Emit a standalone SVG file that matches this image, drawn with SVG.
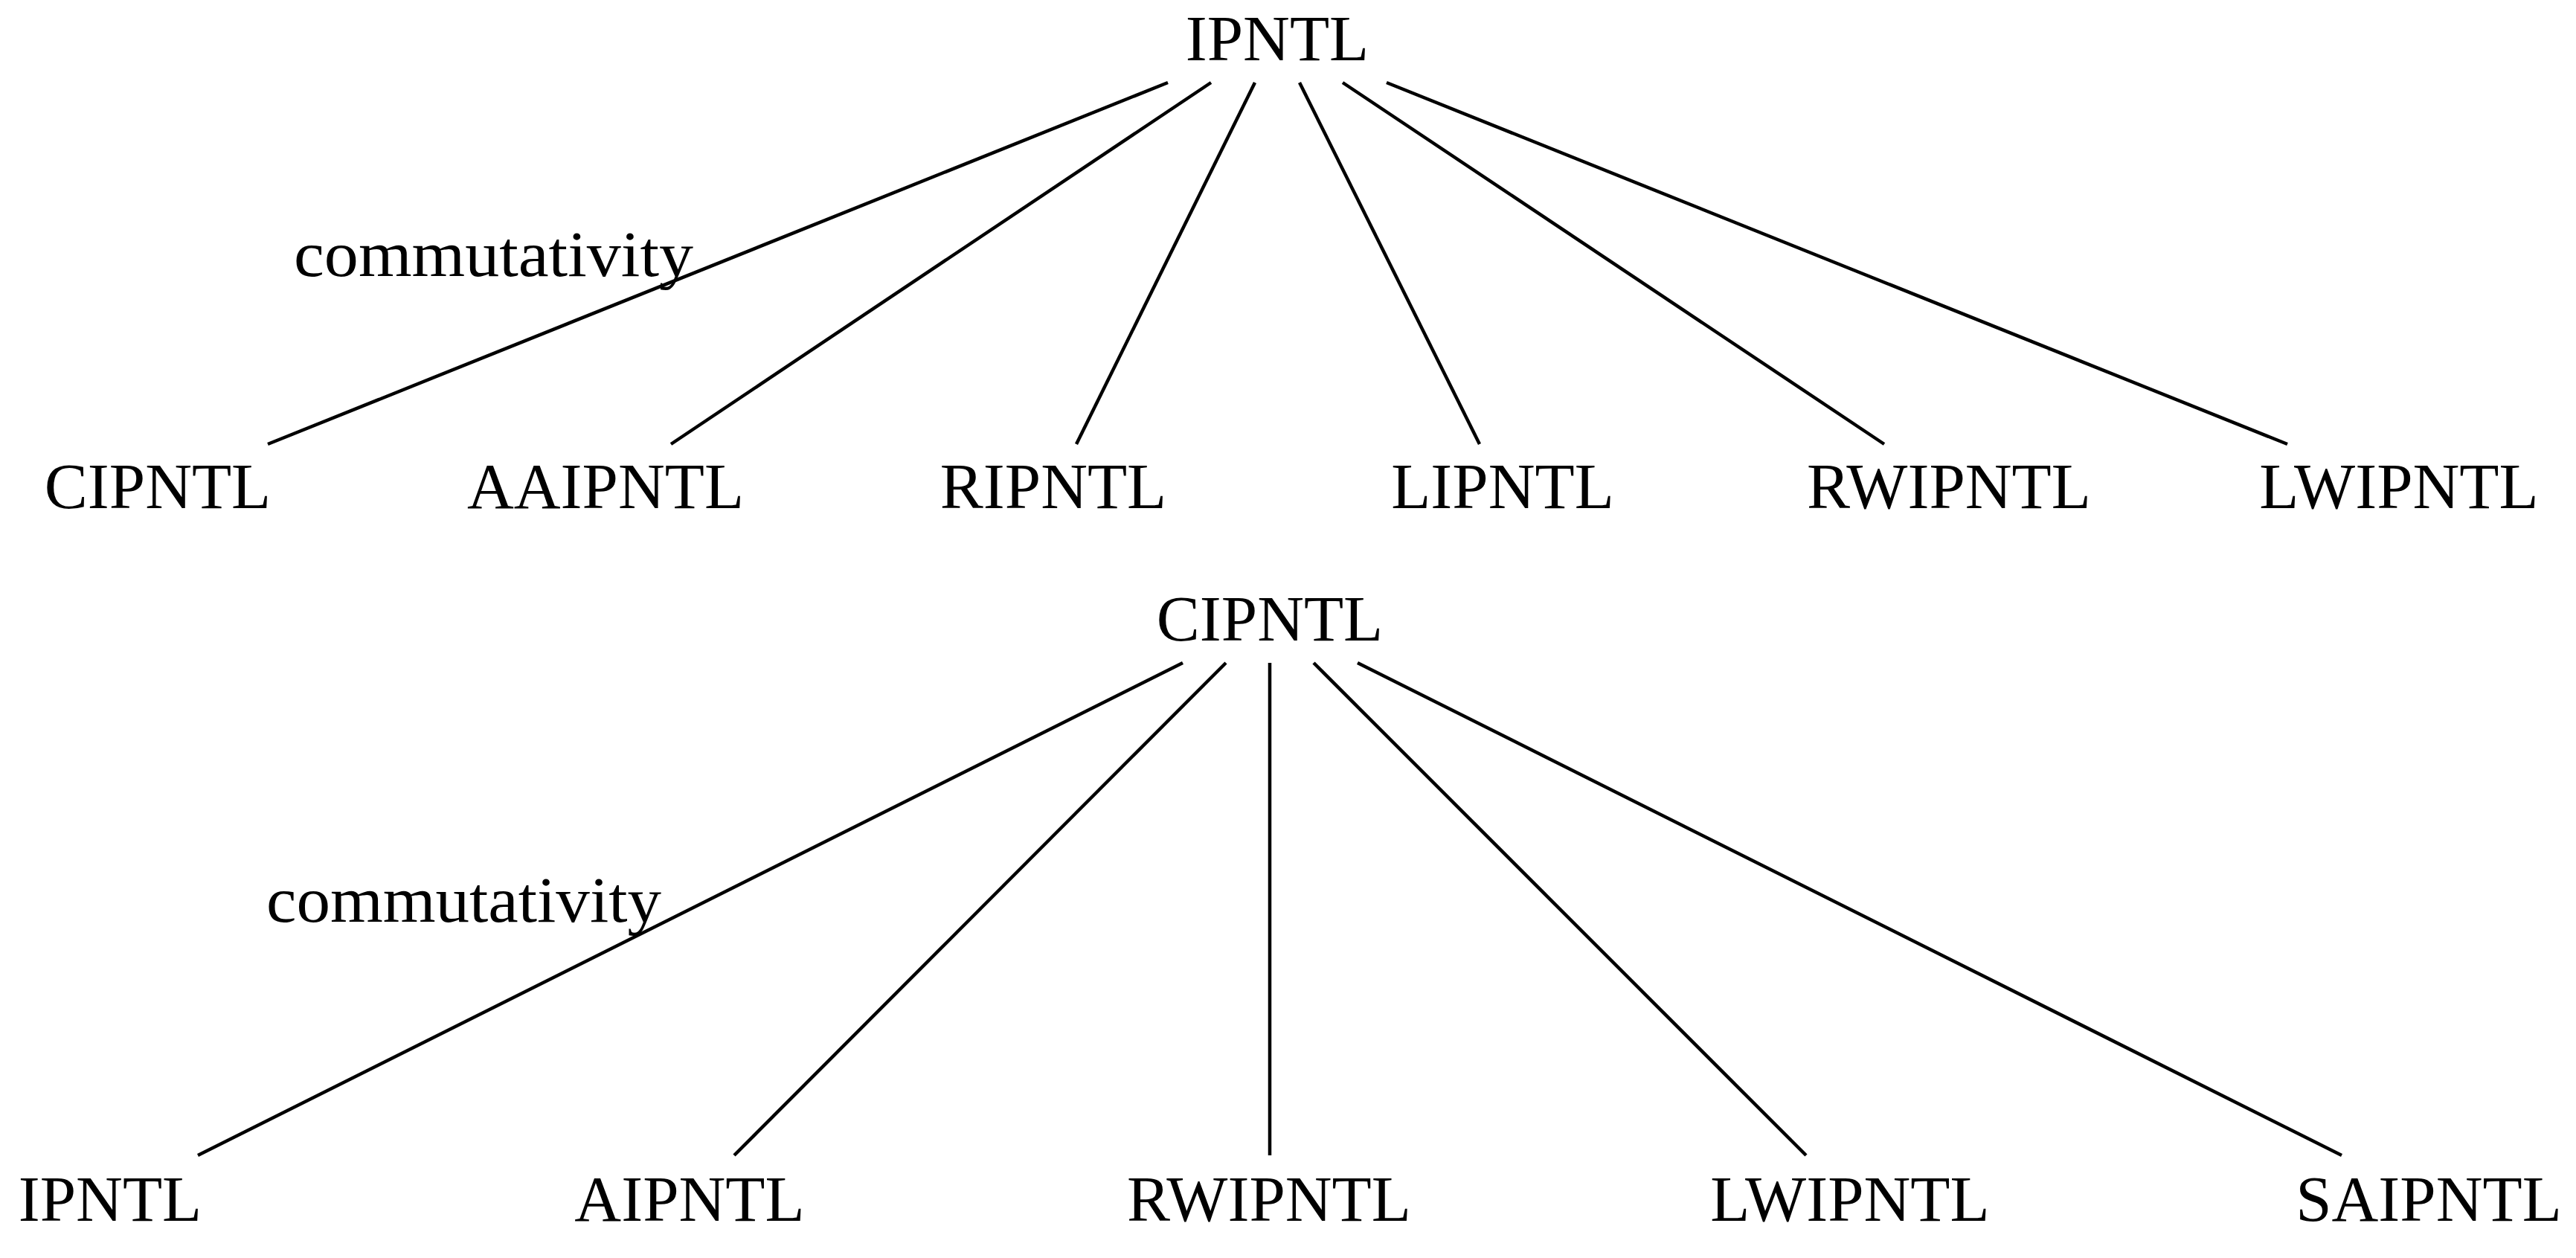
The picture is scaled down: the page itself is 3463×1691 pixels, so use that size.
<svg xmlns="http://www.w3.org/2000/svg" width="3463" height="1691" viewBox="0 0 3463 1691">
<style>
.n{font-family:"Liberation Serif","Times New Roman",serif;font-size:87px;fill:#000;text-anchor:middle}
.l{font-family:"Liberation Serif","Times New Roman",serif;font-size:87px;fill:#000}
.e{stroke:#000;stroke-width:4.5;fill:none;stroke-linecap:butt}
</style>
<rect width="3463" height="1691" fill="#fff"/>
<g id="connectors">
<line class="e" x1="1570" y1="111" x2="360" y2="597"/>
<line class="e" x1="1628" y1="111" x2="902" y2="597"/>
<line class="e" x1="1687" y1="111" x2="1447" y2="597"/>
<line class="e" x1="1747" y1="111" x2="1989" y2="597"/>
<line class="e" x1="1805" y1="111" x2="2533" y2="597"/>
<line class="e" x1="1864" y1="111" x2="3075" y2="597"/>
<line class="e" x1="1590" y1="891" x2="266" y2="1553"/>
<line class="e" x1="1648" y1="891" x2="987" y2="1553"/>
<line class="e" x1="1707" y1="891" x2="1707" y2="1553"/>
<line class="e" x1="1766" y1="891" x2="2428" y2="1553"/>
<line class="e" x1="1825" y1="891" x2="3148" y2="1553"/>
</g>
<g id="label-commutativity-1"><text class="l" x="395" y="371" textLength="537" lengthAdjust="spacingAndGlyphs">commutativity</text></g>
<g id="label-commutativity-2"><text class="l" x="358" y="1239" textLength="531" lengthAdjust="spacingAndGlyphs">commutativity</text></g>
<g id="t1-root"><text class="n" x="1717" y="81">IPNTL</text></g>
<g id="t1-CIPNTL"><text class="n" x="212" y="683">CIPNTL</text></g>
<g id="t1-AAIPNTL"><text class="n" x="814" y="683">AAIPNTL</text></g>
<g id="t1-RIPNTL"><text class="n" x="1416" y="683">RIPNTL</text></g>
<g id="t1-LIPNTL"><text class="n" x="2020" y="683">LIPNTL</text></g>
<g id="t1-RWIPNTL"><text class="n" x="2620" y="683">RWIPNTL</text></g>
<g id="t1-LWIPNTL"><text class="n" x="3225" y="683">LWIPNTL</text></g>
<g id="t2-root"><text class="n" x="1707" y="861">CIPNTL</text></g>
<g id="t2-IPNTL"><text class="n" x="148" y="1641">IPNTL</text></g>
<g id="t2-AIPNTL"><text class="n" x="927" y="1641">AIPNTL</text></g>
<g id="t2-RWIPNTL"><text class="n" x="1706" y="1641">RWIPNTL</text></g>
<g id="t2-LWIPNTL"><text class="n" x="2487" y="1641">LWIPNTL</text></g>
<g id="t2-SAIPNTL"><text class="n" x="3265" y="1641">SAIPNTL</text></g>
</svg>
